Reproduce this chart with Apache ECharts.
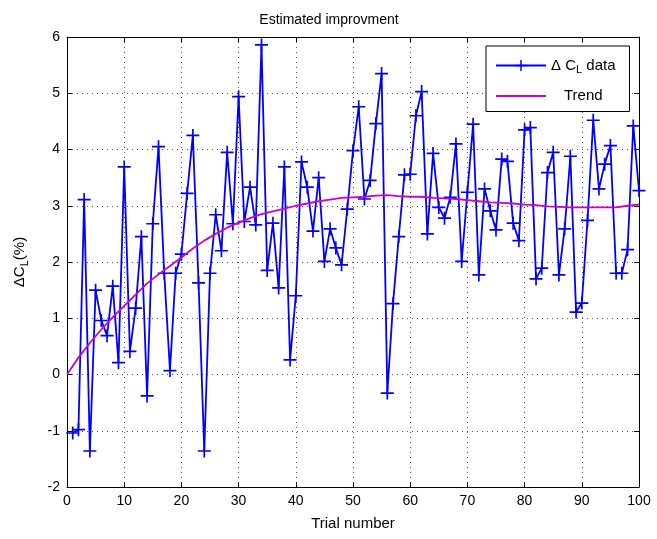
<!DOCTYPE html>
<html>
<head>
<meta charset="utf-8">
<script src="https://cdn.jsdelivr.net/npm/echarts@6/dist/echarts.min.js"></script>
<style>
  html, body { margin: 0; padding: 0; background: #fff; }
  #chart { width: 657px; height: 539px; }
</style>
</head>
<body>
<div id="chart"></div>
<script>
// trial data (x = 1..100)
var trials = [];
for (var i = 1; i <= 100; i++) trials.push(i);
var dCL = [
  -1.04, -0.98, 3.11, -1.36, 1.50, 0.96, 0.69, 1.57, 0.21, 3.69,
  0.41, 1.18, 2.45, -0.38, 2.68, 4.05, 1.80, 0.07, 1.80, 2.14,
  3.22, 4.25, 1.63, -1.36, 1.80, 2.84, 2.20, 3.95, 2.68, 4.94,
  2.72, 3.33, 2.66, 5.86, 1.85, 2.69, 1.54, 3.69, 0.26, 1.40,
  3.78, 3.33, 2.55, 3.50, 2.01, 2.59, 2.25, 1.95, 2.94, 3.98,
  4.76, 3.12, 3.45, 4.46, 5.35, -0.33, 1.26, 2.45, 3.55, 3.56,
  4.60, 5.03, 2.50, 3.93, 2.97, 2.78, 3.15, 4.10, 2.01, 3.24,
  4.45, 1.77, 3.30, 2.91, 2.57, 3.83, 3.79, 2.69, 2.38, 4.35,
  4.39, 1.70, 1.89, 3.59, 3.95, 1.77, 2.59, 3.88, 1.11, 1.27,
  2.74, 4.52, 3.30, 3.74, 4.07, 1.80, 1.80, 2.22, 4.42, 3.27
];

// trend curve
var trendX = [0, 2, 4, 6, 8, 10, 12, 14, 16, 18, 20, 22, 24, 26, 28, 30, 32, 34, 36, 38, 40,
  42, 44, 46, 48, 50, 52, 54, 56, 58, 60, 62, 64, 66, 68, 70, 72, 74, 76, 78, 80,
  82, 84, 86, 88, 90, 92, 94, 96, 98, 100];
var trendY = [0.00, 0.30, 0.56, 0.80, 1.02, 1.22, 1.42, 1.62, 1.78, 1.93, 2.08, 2.24, 2.38, 2.50, 2.61, 2.70, 2.78, 2.85, 2.90, 2.95, 3.00,
  3.04, 3.08, 3.11, 3.14, 3.15, 3.16, 3.18, 3.19, 3.17, 3.16, 3.16, 3.14, 3.13, 3.12, 3.10, 3.08, 3.06, 3.05, 3.04, 3.02,
  3.01, 2.99, 2.98, 2.97, 2.97, 2.97, 2.97, 2.97, 3.00, 3.02];

var font = 'Liberation Sans, Arial, sans-serif';
var plus = 'path://M4.35,0H5.65V4.35H10V5.65H5.65V10H4.35V5.65H0V4.35H4.35Z';
// thin line icon for the legend (corner specks keep the box size)
var lineIcon = 'path://M0,0H0.01V0.01H0Z M0,6.1H50V7.9H0Z M49.99,13.99H50V14H49.99Z';

var chart = echarts.init(document.getElementById('chart'));

var tickStyle = { show: true, inside: true, length: 5, lineStyle: { color: '#000' } };
var gridLine = { show: true, lineStyle: { color: '#555', type: [1, 4], width: 1 } };

var option = {
  backgroundColor: '#fff',
  animation: false,
  title: {
    text: 'Estimated improvment',
    left: 324, top: 8, textAlign: 'center',
    textStyle: { fontFamily: font, fontSize: 14, fontWeight: 'normal', color: '#000' }
  },
  legend: {
    orient: 'vertical',
    left: 486, top: 46,
    padding: [12, 14, 8, 9],
    itemGap: 13,
    itemWidth: 50, itemHeight: 14,
    backgroundColor: '#fff',
    borderColor: '#000', borderWidth: 1,
    borderRadius: 0,
    data: [{ name: 'dCL' }, { name: 'Trend', icon: lineIcon }],
    formatter: function (n) {
      return n === 'dCL' ? '{a|\u0394 C}{s|L}{a| data}' : '{t|Trend}';
    },
    textStyle: {
      fontFamily: font, fontSize: 15, color: '#000',
      rich: {
        a: { fontFamily: font, fontSize: 15, color: '#000' },
        t: { fontFamily: font, fontSize: 15, color: '#000', padding: [0, 0, 0, 13] },
        s: { fontFamily: font, fontSize: 11, color: '#000', verticalAlign: 'bottom', padding: [9, 0, 0, 0] }
      }
    }
  },
  grid: { left: 67, right: 18, top: 37, bottom: 52 },
  xAxis: [{
    type: 'value', min: 0, max: 100, interval: 10,
    name: 'Trial number', nameLocation: 'middle', nameGap: 29,
    nameTextStyle: { fontFamily: font, fontSize: 15, color: '#000' },
    axisLine: { show: true, onZero: false, lineStyle: { color: '#000' } },
    axisTick: tickStyle,
    axisLabel: { fontFamily: font, fontSize: 14, color: '#000', margin: 7 },
    splitLine: gridLine
  }, {
    type: 'value', min: 0, max: 100, interval: 10, position: 'top',
    axisLine: { show: true, onZero: false, lineStyle: { color: '#000' } },
    axisTick: tickStyle, axisLabel: { show: false }, splitLine: { show: false }
  }],
  yAxis: [{
    type: 'value', min: -2, max: 6, interval: 1,
    name: '\u0394C{s|L}(%)', nameLocation: 'middle', nameGap: 37,
    nameTextStyle: {
      fontFamily: font, fontSize: 15, color: '#000',
      rich: { s: { fontFamily: font, fontSize: 11, color: '#000', padding: [9, 0, 0, 0] } }
    },
    axisLine: { show: true, onZero: false, lineStyle: { color: '#000' } },
    axisTick: tickStyle,
    axisLabel: { fontFamily: font, fontSize: 14, color: '#000', margin: 7 },
    splitLine: gridLine
  }, {
    type: 'value', min: -2, max: 6, interval: 1, position: 'right',
    axisLine: { show: true, onZero: false, lineStyle: { color: '#000' } },
    axisTick: tickStyle, axisLabel: { show: false }, splitLine: { show: false }
  }],
  series: [{
    name: 'dCL',
    type: 'line',
    data: trials.map(function (x, k) { return [x, dCL[k]]; }),
    symbol: plus, symbolSize: 13, symbolKeepAspect: true, showSymbol: true,
    lineStyle: { color: '#0000ff', width: 1.8 },
    itemStyle: { color: '#0000ff' },
    z: 3
  }, {
    name: 'Trend',
    type: 'line',
    data: trendX.map(function (x, k) { return [x, trendY[k]]; }),
    showSymbol: false, symbol: 'none',
    lineStyle: { color: '#cc00cc', width: 1.8 },
    itemStyle: { color: '#cc00cc' },
    z: 4
  }]
};

chart.setOption(option);
</script>
</body>
</html>
